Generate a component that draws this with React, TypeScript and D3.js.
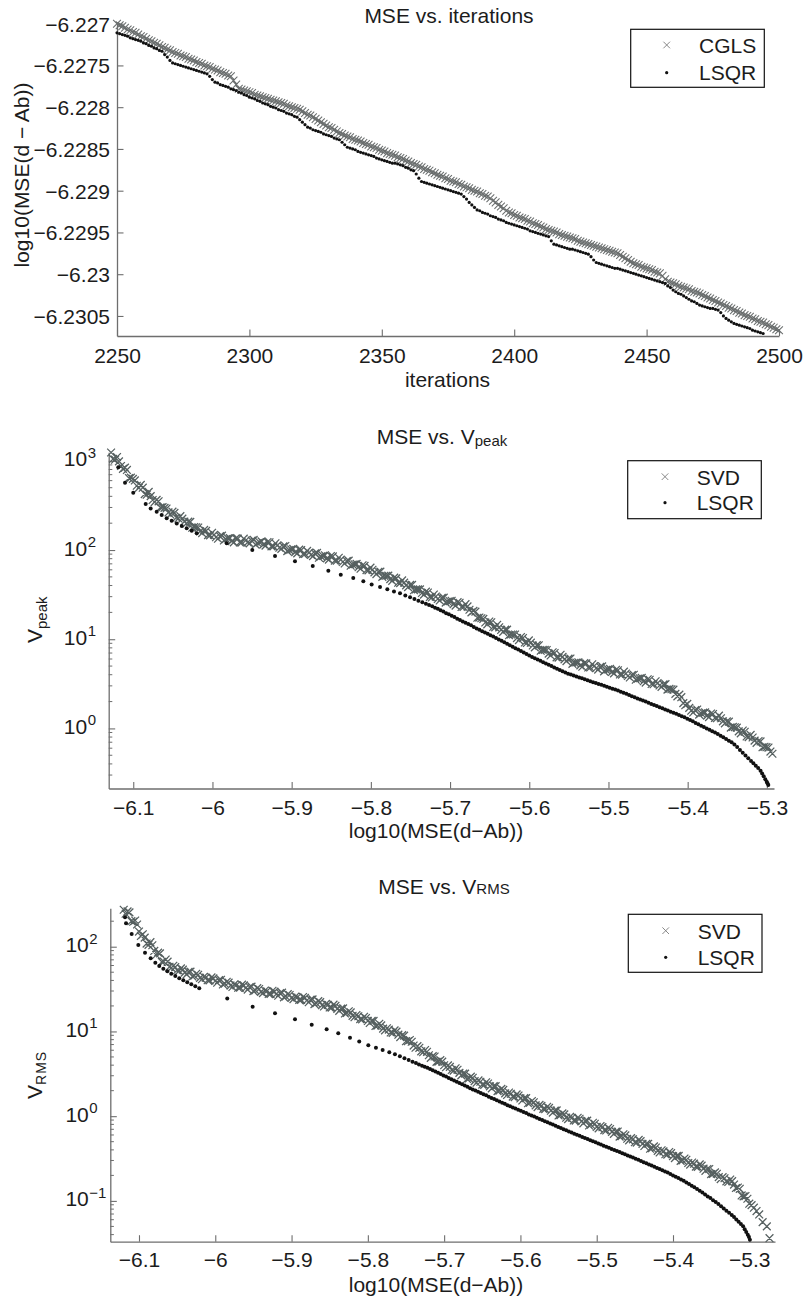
import React, { useEffect, useRef } from 'react';
import * as d3 from 'd3';

// ---------- panel 1: MSE vs. iterations ----------
const iterStart = 2250;
const cglsMse = [
  -6.22700, -6.22702, -6.22703, -6.22705, -6.22707, -6.22708, -6.22710, -6.22711, -6.22713, -6.22715,
  -6.22716, -6.22718, -6.22720, -6.22721, -6.22723, -6.22724, -6.22726, -6.22728, -6.22729, -6.22731,
  -6.22732, -6.22734, -6.22735, -6.22736, -6.22738, -6.22739, -6.22740, -6.22742, -6.22743, -6.22744,
  -6.22746, -6.22747, -6.22748, -6.22750, -6.22751, -6.22752, -6.22754, -6.22755, -6.22756, -6.22758,
  -6.22759, -6.22760, -6.22762, -6.22763, -6.22768, -6.22773, -6.22778, -6.22779, -6.22780, -6.22781,
  -6.22782, -6.22783, -6.22785, -6.22786, -6.22787, -6.22788, -6.22789, -6.22790, -6.22791, -6.22792,
  -6.22793, -6.22794, -6.22795, -6.22796, -6.22798, -6.22799, -6.22800, -6.22801, -6.22802, -6.22803,
  -6.22805, -6.22807, -6.22809, -6.22810, -6.22812, -6.22814, -6.22816, -6.22818, -6.22820, -6.22822,
  -6.22824, -6.22825, -6.22827, -6.22829, -6.22831, -6.22832, -6.22834, -6.22835, -6.22836, -6.22838,
  -6.22839, -6.22840, -6.22841, -6.22843, -6.22844, -6.22845, -6.22847, -6.22848, -6.22849, -6.22851,
  -6.22852, -6.22853, -6.22855, -6.22856, -6.22857, -6.22858, -6.22860, -6.22861, -6.22862, -6.22864,
  -6.22865, -6.22867, -6.22868, -6.22869, -6.22871, -6.22872, -6.22874, -6.22875, -6.22876, -6.22878,
  -6.22879, -6.22881, -6.22882, -6.22883, -6.22885, -6.22886, -6.22888, -6.22889, -6.22890, -6.22892,
  -6.22893, -6.22895, -6.22896, -6.22897, -6.22899, -6.22900, -6.22901, -6.22903, -6.22904, -6.22906,
  -6.22907, -6.22909, -6.22912, -6.22914, -6.22917, -6.22919, -6.22921, -6.22924, -6.22926, -6.22927,
  -6.22929, -6.22930, -6.22932, -6.22933, -6.22934, -6.22936, -6.22937, -6.22939, -6.22940, -6.22941,
  -6.22943, -6.22944, -6.22946, -6.22947, -6.22948, -6.22949, -6.22950, -6.22952, -6.22953, -6.22954,
  -6.22955, -6.22956, -6.22957, -6.22958, -6.22960, -6.22961, -6.22962, -6.22963, -6.22964, -6.22965,
  -6.22966, -6.22967, -6.22968, -6.22969, -6.22970, -6.22971, -6.22972, -6.22973, -6.22974, -6.22975,
  -6.22977, -6.22979, -6.22981, -6.22983, -6.22985, -6.22987, -6.22988, -6.22989, -6.22991, -6.22992,
  -6.22993, -6.22994, -6.22995, -6.22997, -6.22998, -6.22999, -6.23002, -6.23006, -6.23009, -6.23010,
  -6.23011, -6.23012, -6.23014, -6.23015, -6.23016, -6.23017, -6.23018, -6.23020, -6.23021, -6.23022,
  -6.23023, -6.23025, -6.23026, -6.23028, -6.23029, -6.23031, -6.23032, -6.23034, -6.23035, -6.23037,
  -6.23038, -6.23040, -6.23041, -6.23043, -6.23044, -6.23046, -6.23047, -6.23049, -6.23050, -6.23051,
  -6.23053, -6.23054, -6.23056, -6.23057, -6.23058, -6.23060, -6.23061, -6.23063, -6.23064, -6.23066,
  -6.23067,
];
const lsqrMse = [
  -6.22711, -6.22712, -6.22713, -6.22714, -6.22715, -6.22717, -6.22718, -6.22719, -6.22720, -6.22721,
  -6.22723, -6.22724, -6.22726, -6.22727, -6.22729, -6.22730, -6.22732, -6.22733, -6.22737, -6.22740,
  -6.22744, -6.22747, -6.22748, -6.22749, -6.22750, -6.22751, -6.22752, -6.22753, -6.22754, -6.22755,
  -6.22756, -6.22757, -6.22758, -6.22759, -6.22760, -6.22763, -6.22767, -6.22770, -6.22771, -6.22773,
  -6.22774, -6.22775, -6.22776, -6.22778, -6.22779, -6.22780, -6.22782, -6.22783, -6.22785, -6.22786,
  -6.22788, -6.22789, -6.22790, -6.22792, -6.22793, -6.22795, -6.22796, -6.22797, -6.22799, -6.22800,
  -6.22801, -6.22803, -6.22804, -6.22805, -6.22807, -6.22808, -6.22809, -6.22811, -6.22812, -6.22815,
  -6.22818, -6.22821, -6.22824, -6.22825, -6.22827, -6.22828, -6.22829, -6.22830, -6.22832, -6.22833,
  -6.22834, -6.22835, -6.22837, -6.22838, -6.22839, -6.22842, -6.22845, -6.22848, -6.22849, -6.22850,
  -6.22851, -6.22853, -6.22854, -6.22855, -6.22856, -6.22857, -6.22858, -6.22859, -6.22861, -6.22862,
  -6.22863, -6.22864, -6.22865, -6.22866, -6.22867, -6.22867, -6.22868, -6.22869, -6.22870, -6.22872,
  -6.22873, -6.22875, -6.22876, -6.22880, -6.22885, -6.22889, -6.22890, -6.22891, -6.22892, -6.22893,
  -6.22894, -6.22895, -6.22896, -6.22897, -6.22898, -6.22899, -6.22900, -6.22901, -6.22902, -6.22903,
  -6.22904, -6.22907, -6.22910, -6.22914, -6.22917, -6.22920, -6.22923, -6.22924, -6.22926, -6.22927,
  -6.22928, -6.22930, -6.22931, -6.22932, -6.22934, -6.22935, -6.22936, -6.22938, -6.22939, -6.22940,
  -6.22941, -6.22942, -6.22943, -6.22944, -6.22945, -6.22946, -6.22948, -6.22949, -6.22950, -6.22951,
  -6.22952, -6.22953, -6.22954, -6.22955, -6.22960, -6.22964, -6.22965, -6.22966, -6.22967, -6.22968,
  -6.22969, -6.22970, -6.22970, -6.22971, -6.22972, -6.22973, -6.22974, -6.22975, -6.22976, -6.22979,
  -6.22983, -6.22986, -6.22987, -6.22988, -6.22989, -6.22990, -6.22991, -6.22992, -6.22993, -6.22993,
  -6.22994, -6.22995, -6.22996, -6.22997, -6.22998, -6.22999, -6.23000, -6.23001, -6.23002, -6.23003,
  -6.23004, -6.23005, -6.23006, -6.23007, -6.23008, -6.23009, -6.23010, -6.23011, -6.23014, -6.23016,
  -6.23019, -6.23021, -6.23023, -6.23024, -6.23026, -6.23028, -6.23030, -6.23032, -6.23033, -6.23035,
  -6.23037, -6.23038, -6.23039, -6.23040, -6.23041, -6.23041, -6.23042, -6.23043, -6.23046, -6.23050,
  -6.23053, -6.23055, -6.23057, -6.23059, -6.23060, -6.23061, -6.23062, -6.23063, -6.23064, -6.23065,
  -6.23067, -6.23068, -6.23069, -6.23070, -6.23071,
];
const iterTicks = [2250, 2300, 2350, 2400, 2450, 2500];
const mseTicks = [-6.227, -6.2275, -6.228, -6.2285, -6.229, -6.2295, -6.23, -6.2305];

// ---------- shared x ticks of panels 2 and 3 ----------
const logMseTicks = [-6.1, -6, -5.9, -5.8, -5.7, -5.6, -5.5, -5.4, -5.3];

// ---------- panel 2: MSE vs. Vpeak  [log10 MSE, Vpeak] ----------
const svdPeak: [number, number][] = [
  [-6.128, 1240], [-6.1255, 1050], [-6.123, 1030], [-6.1205, 1105], [-6.118, 986], [-6.1155, 875], [-6.113, 813],
  [-6.1105, 839], [-6.108, 791], [-6.1055, 641], [-6.103, 647], [-6.1005, 628], [-6.098, 603], [-6.0955, 526],
  [-6.093, 498], [-6.0905, 538], [-6.088, 500], [-6.0855, 424], [-6.083, 417], [-6.0805, 449], [-6.078, 402],
  [-6.0755, 364], [-6.073, 345], [-6.0705, 365], [-6.068, 352], [-6.0655, 301], [-6.063, 303], [-6.0605, 297],
  [-6.058, 292], [-6.0555, 264], [-6.053, 249], [-6.0505, 269], [-6.048, 261], [-6.0455, 230], [-6.043, 226],
  [-6.0405, 240], [-6.038, 225], [-6.0355, 208], [-6.033, 198], [-6.0305, 208], [-6.028, 207], [-6.0255, 178],
  [-6.023, 181], [-6.0205, 180], [-6.018, 179], [-6.0155, 162], [-6.013, 155], [-6.0105, 168], [-6.008, 164],
  [-6.0055, 147], [-6.003, 146], [-6.0005, 156], [-5.998, 148], [-5.9955, 139], [-5.993, 134], [-5.9905, 143],
  [-5.988, 145], [-5.9855, 128], [-5.983, 133], [-5.9805, 135], [-5.978, 136], [-5.9755, 126], [-5.973, 122],
  [-5.9705, 135], [-5.968, 134], [-5.9655, 122], [-5.963, 122], [-5.9605, 134], [-5.958, 128], [-5.9555, 122],
  [-5.953, 119], [-5.9505, 128], [-5.948, 130], [-5.9455, 115], [-5.943, 120], [-5.9405, 122], [-5.938, 125],
  [-5.9355, 116], [-5.933, 112], [-5.9305, 123], [-5.928, 122], [-5.9255, 110], [-5.923, 110], [-5.9205, 119],
  [-5.918, 113], [-5.9155, 106], [-5.913, 103], [-5.9105, 110], [-5.908, 111], [-5.9055, 97.3], [-5.903, 100],
  [-5.9005, 101.5], [-5.898, 103], [-5.8955, 94.8], [-5.893, 91.8], [-5.8905, 101], [-5.888, 99.8], [-5.8855, 90.1],
  [-5.883, 90.2], [-5.8805, 97.8], [-5.878, 93.5], [-5.8755, 88.4], [-5.873, 85.5], [-5.8705, 91.7], [-5.868, 92.9],
  [-5.8655, 82.0], [-5.863, 85.1], [-5.8605, 86.2], [-5.858, 87.3], [-5.8555, 80.6], [-5.853, 78.0], [-5.8505, 85.6],
  [-5.848, 84.7], [-5.8455, 76.1], [-5.843, 75.9], [-5.8405, 81.9], [-5.838, 78.0], [-5.8355, 73.4], [-5.833, 70.6],
  [-5.8305, 75.4], [-5.828, 76.0], [-5.8255, 66.7], [-5.823, 68.7], [-5.8205, 69.3], [-5.818, 69.8], [-5.8155, 64.2],
  [-5.813, 61.8], [-5.8105, 67.5], [-5.808, 66.5], [-5.8055, 59.6], [-5.803, 59.2], [-5.8005, 63.5], [-5.798, 60.1],
  [-5.7955, 56.2], [-5.793, 53.8], [-5.7905, 57.1], [-5.788, 57.3], [-5.7855, 50.1], [-5.783, 51.4], [-5.7805, 51.5],
  [-5.778, 51.6], [-5.7755, 47.2], [-5.773, 45.2], [-5.7705, 49.1], [-5.768, 48.1], [-5.7655, 43.0], [-5.763, 42.6],
  [-5.7605, 45.6], [-5.758, 43.1], [-5.7555, 40.2], [-5.753, 38.4], [-5.7505, 40.6], [-5.748, 40.6], [-5.7455, 35.4],
  [-5.743, 36.2], [-5.7405, 36.2], [-5.738, 36.2], [-5.7355, 33.0], [-5.733, 31.6], [-5.7305, 34.2], [-5.728, 33.4],
  [-5.7255, 29.8], [-5.723, 29.4], [-5.7205, 31.7], [-5.718, 30.1], [-5.7155, 28.3], [-5.713, 27.2], [-5.7105, 29.1],
  [-5.708, 29.3], [-5.7055, 25.7], [-5.703, 26.5], [-5.7005, 26.8], [-5.698, 27.0], [-5.6955, 24.8], [-5.693, 23.8],
  [-5.6905, 26.0], [-5.688, 25.6], [-5.6855, 23.0], [-5.683, 23.0], [-5.6805, 24.7], [-5.678, 23.3], [-5.6755, 21.4],
  [-5.673, 20.0], [-5.6705, 20.8], [-5.668, 20.4], [-5.6655, 17.4], [-5.663, 17.5], [-5.6605, 17.2], [-5.658, 16.9],
  [-5.6555, 15.4], [-5.653, 14.7], [-5.6505, 15.8], [-5.648, 15.5], [-5.6455, 13.7], [-5.643, 13.6], [-5.6405, 14.5],
  [-5.638, 13.6], [-5.6355, 12.7], [-5.633, 12.1], [-5.6305, 12.8], [-5.628, 12.8], [-5.6255, 11.1], [-5.623, 11.3],
  [-5.6205, 11.3], [-5.618, 11.3], [-5.6155, 10.3], [-5.613, 9.79], [-5.6105, 10.6], [-5.608, 10.3], [-5.6055, 9.20],
  [-5.603, 9.08], [-5.6005, 9.70], [-5.598, 9.14], [-5.5955, 8.51], [-5.593, 8.11], [-5.5905, 8.57], [-5.588, 8.55],
  [-5.5855, 7.44], [-5.583, 7.60], [-5.5805, 7.59], [-5.578, 7.57], [-5.5755, 6.90], [-5.573, 6.58], [-5.5705, 7.15],
  [-5.568, 7.01], [-5.5655, 6.27], [-5.563, 6.22], [-5.5605, 6.69], [-5.558, 6.34], [-5.5555, 5.94], [-5.553, 5.69],
  [-5.5505, 6.05], [-5.548, 6.07], [-5.5455, 5.30], [-5.543, 5.45], [-5.5405, 5.48], [-5.538, 5.51], [-5.5355, 5.09],
  [-5.533, 4.92], [-5.5305, 5.40], [-5.528, 5.35], [-5.5255, 4.82], [-5.523, 4.82], [-5.5205, 5.23], [-5.518, 5.00],
  [-5.5155, 4.73], [-5.513, 4.57], [-5.5105, 4.90], [-5.508, 4.95], [-5.5055, 4.37], [-5.503, 4.53], [-5.5005, 4.59],
  [-5.498, 4.65], [-5.4955, 4.29], [-5.493, 4.14], [-5.4905, 4.54], [-5.488, 4.49], [-5.4855, 4.03], [-5.483, 4.01],
  [-5.4805, 4.33], [-5.478, 4.12], [-5.4755, 3.87], [-5.473, 3.72], [-5.4705, 3.97], [-5.468, 4.00], [-5.4655, 3.51],
  [-5.463, 3.62], [-5.4605, 3.65], [-5.458, 3.68], [-5.4555, 3.38], [-5.453, 3.26], [-5.4505, 3.56], [-5.448, 3.51],
  [-5.4455, 3.15], [-5.443, 3.13], [-5.4405, 3.38], [-5.438, 3.22], [-5.4355, 3.03], [-5.433, 2.92], [-5.4305, 3.12],
  [-5.428, 3.14], [-5.4255, 2.72], [-5.423, 2.77], [-5.4205, 2.75], [-5.418, 2.72], [-5.4155, 2.44], [-5.413, 2.29],
  [-5.4105, 2.39], [-5.408, 2.24], [-5.4055, 1.92], [-5.403, 1.82], [-5.4005, 1.88], [-5.398, 1.70], [-5.3955, 1.58],
  [-5.393, 1.51], [-5.3905, 1.61], [-5.388, 1.63], [-5.3855, 1.43], [-5.383, 1.48], [-5.3805, 1.50], [-5.378, 1.51],
  [-5.3755, 1.39], [-5.373, 1.34], [-5.3705, 1.47], [-5.368, 1.45], [-5.3655, 1.31], [-5.363, 1.30], [-5.3605, 1.39],
  [-5.358, 1.30], [-5.3555, 1.20], [-5.353, 1.14], [-5.3505, 1.20], [-5.348, 1.19], [-5.3455, 1.02], [-5.343, 1.04],
  [-5.3405, 1.03], [-5.338, 1.02], [-5.3355, 0.927], [-5.333, 0.879], [-5.3305, 0.946], [-5.328, 0.918], [-5.3255, 0.813],
  [-5.323, 0.798], [-5.3205, 0.846], [-5.318, 0.791], [-5.3155, 0.729], [-5.313, 0.689], [-5.3105, 0.722], [-5.308, 0.715],
  [-5.3055, 0.615], [-5.303, 0.622], [-5.3005, 0.616], [-5.298, 0.610], [-5.2955, 0.550], [-5.293, 0.520],
];
const lsqrPeak: [number, number][] = [
  [-6.1189, 845], [-6.1104, 567], [-6.1, 438], [-6.0843, 328], [-6.078, 293], [-6.0704, 269], [-6.0641, 247],
  [-6.0578, 227], [-6.0515, 213], [-6.0451, 199], [-6.0388, 186], [-6.0325, 175], [-6.0262, 165], [-6.0199, 154],
  [-5.982, 119], [-5.9497, 100], [-5.921, 86], [-5.8958, 75], [-5.8734, 66.1], [-5.8537, 58.6], [-5.838, 52.8],
  [-5.8222, 48.5], [-5.8095, 44.6], [-5.799, 41.2], [-5.7884, 38.5], [-5.7792, 36.3], [-5.7708, 34.3], [-5.7632, 32.7],
  [-5.7565, 31.0], [-5.7505, 29.5], [-5.745, 28.2], [-5.74, 27.0], [-5.735, 25.9], [-5.7305, 25.0], [-5.7265, 24.2],
  [-5.7225, 23.4], [-5.719, 22.6], [-5.7155, 21.9], [-5.712, 21.1], [-5.7085, 20.4], [-5.705, 19.6], [-5.7015, 19.0],
  [-5.698, 18.3], [-5.6945, 17.7], [-5.691, 17.0], [-5.6875, 16.4], [-5.684, 15.8], [-5.6805, 15.3], [-5.677, 14.8],
  [-5.6735, 14.3], [-5.67, 13.7], [-5.6665, 13.2], [-5.663, 12.8], [-5.6595, 12.3], [-5.656, 11.9], [-5.6525, 11.5],
  [-5.649, 11.1], [-5.6455, 10.7], [-5.642, 10.3], [-5.6385, 9.95], [-5.635, 9.59], [-5.6315, 9.23], [-5.628, 8.89],
  [-5.6245, 8.57], [-5.621, 8.26], [-5.6175, 7.94], [-5.614, 7.66], [-5.6105, 7.38], [-5.607, 7.10], [-5.6035, 6.84],
  [-5.6, 6.59], [-5.5965, 6.34], [-5.593, 6.12], [-5.5895, 5.92], [-5.586, 5.73], [-5.5825, 5.53], [-5.579, 5.35],
  [-5.5755, 5.18], [-5.572, 5.00], [-5.5685, 4.83], [-5.565, 4.68], [-5.5615, 4.52], [-5.558, 4.37], [-5.5545, 4.23],
  [-5.551, 4.10], [-5.5475, 4.01], [-5.544, 3.91], [-5.5405, 3.82], [-5.537, 3.72], [-5.5335, 3.64], [-5.53, 3.55],
  [-5.5265, 3.47], [-5.523, 3.39], [-5.5195, 3.30], [-5.516, 3.23], [-5.5125, 3.15], [-5.509, 3.08], [-5.5055, 3.00],
  [-5.502, 2.93], [-5.4985, 2.86], [-5.495, 2.79], [-5.4915, 2.73], [-5.488, 2.66], [-5.4845, 2.58], [-5.481, 2.51],
  [-5.4775, 2.44], [-5.474, 2.37], [-5.4705, 2.30], [-5.467, 2.24], [-5.4635, 2.17], [-5.46, 2.11], [-5.4565, 2.05],
  [-5.453, 2.00], [-5.4495, 1.94], [-5.446, 1.88], [-5.4425, 1.83], [-5.439, 1.78], [-5.4355, 1.73], [-5.432, 1.68],
  [-5.4285, 1.63], [-5.425, 1.59], [-5.4215, 1.54], [-5.418, 1.50], [-5.4145, 1.46], [-5.411, 1.41], [-5.4075, 1.37],
  [-5.404, 1.33], [-5.4005, 1.28], [-5.397, 1.24], [-5.3935, 1.20], [-5.39, 1.15], [-5.3865, 1.11], [-5.383, 1.07],
  [-5.3795, 1.04], [-5.376, 1.00], [-5.3725, 0.966], [-5.369, 0.932], [-5.3655, 0.899], [-5.362, 0.865], [-5.3585, 0.829],
  [-5.355, 0.794], [-5.3515, 0.761], [-5.348, 0.729], [-5.3445, 0.698], [-5.341, 0.662], [-5.3375, 0.617], [-5.334, 0.573],
  [-5.3305, 0.534], [-5.327, 0.497], [-5.3235, 0.463], [-5.32, 0.431], [-5.317, 0.406], [-5.314, 0.382], [-5.311, 0.359],
  [-5.308, 0.335], [-5.306, 0.312], [-5.304, 0.29], [-5.302, 0.27], [-5.3002, 0.253], [-5.2992, 0.242], [-5.2982, 0.232],
];
const peakDecades = [0, 1, 2, 3];

// ---------- panel 3: MSE vs. VRMS  [log10 MSE, VRMS] ----------
const svdRms: [number, number][] = [
  [-6.12, 273], [-6.1175, 245], [-6.115, 261], [-6.1125, 254], [-6.11, 200], [-6.1075, 197], [-6.105, 204],
  [-6.1025, 183], [-6.1, 151], [-6.0975, 134], [-6.095, 140], [-6.0925, 128], [-6.09, 109], [-6.0875, 105],
  [-6.085, 113], [-6.0825, 104], [-6.08, 89.1], [-6.0775, 79.8], [-6.075, 85.1], [-6.0725, 83.4], [-6.07, 66.2],
  [-6.0675, 66.6], [-6.065, 70.5], [-6.0625, 66.7], [-6.06, 57.9], [-6.0575, 56.4], [-6.055, 59.6], [-6.0525, 57.4],
  [-6.05, 52.7], [-6.0475, 51.9], [-6.045, 55.5], [-6.0425, 53.6], [-6.04, 49.5], [-6.0375, 47.2], [-6.035, 50.4],
  [-6.0325, 50.7], [-6.03, 44.5], [-6.0275, 45.4], [-6.025, 47.9], [-6.0225, 46.6], [-6.02, 42.8], [-6.0175, 41.3],
  [-6.015, 44.2], [-6.0125, 43.1], [-6.01, 40.2], [-6.0075, 40.1], [-6.005, 43.4], [-6.0025, 42.3], [-6.0, 39.4],
  [-5.9975, 37.6], [-5.995, 40.3], [-5.9925, 40.7], [-5.99, 35.8], [-5.9875, 36.6], [-5.985, 38.6], [-5.9825, 37.7],
  [-5.98, 34.8], [-5.9775, 33.5], [-5.975, 35.9], [-5.9725, 35.1], [-5.97, 32.8], [-5.9675, 32.9], [-5.965, 35.6],
  [-5.9625, 34.9], [-5.96, 32.6], [-5.9575, 31.2], [-5.955, 33.4], [-5.9525, 33.8], [-5.95, 29.9], [-5.9475, 30.6],
  [-5.945, 32.4], [-5.9425, 31.7], [-5.94, 29.3], [-5.9375, 28.3], [-5.935, 30.4], [-5.9325, 29.8], [-5.93, 27.8],
  [-5.9275, 27.8], [-5.925, 30.2], [-5.9225, 29.5], [-5.92, 27.6], [-5.9175, 26.4], [-5.915, 28.3], [-5.9125, 28.7],
  [-5.91, 25.3], [-5.9075, 25.9], [-5.905, 27.5], [-5.9025, 26.9], [-5.9, 24.9], [-5.8975, 24.1], [-5.895, 25.8],
  [-5.8925, 25.3], [-5.89, 23.6], [-5.8875, 23.6], [-5.885, 25.5], [-5.8825, 24.9], [-5.88, 23.2], [-5.8775, 22.1],
  [-5.875, 23.7], [-5.8725, 23.9], [-5.87, 21.0], [-5.8675, 21.5], [-5.865, 22.8], [-5.8625, 22.2], [-5.86, 20.4],
  [-5.8575, 19.7], [-5.855, 21.1], [-5.8525, 20.6], [-5.85, 19.2], [-5.8475, 19.1], [-5.845, 20.7], [-5.8425, 20.0],
  [-5.84, 18.5], [-5.8375, 17.5], [-5.835, 18.6], [-5.8325, 18.7], [-5.83, 16.3], [-5.8275, 16.5], [-5.825, 17.3],
  [-5.8225, 16.8], [-5.82, 15.3], [-5.8175, 14.7], [-5.815, 15.6], [-5.8125, 15.1], [-5.81, 14.0], [-5.8075, 13.9],
  [-5.805, 14.9], [-5.8025, 14.4], [-5.8, 13.3], [-5.7975, 12.6], [-5.795, 13.3], [-5.7925, 13.3], [-5.79, 11.6],
  [-5.7875, 11.7], [-5.785, 12.3], [-5.7825, 11.8], [-5.78, 10.8], [-5.7775, 10.3], [-5.775, 10.9], [-5.7725, 10.5],
  [-5.77, 9.73], [-5.7675, 9.62], [-5.765, 10.3], [-5.7625, 9.94], [-5.76, 9.16], [-5.7575, 8.59], [-5.755, 9.04],
  [-5.7525, 8.92], [-5.75, 7.67], [-5.7475, 7.66], [-5.745, 7.93], [-5.7425, 7.56], [-5.74, 6.81], [-5.7375, 6.42],
  [-5.735, 6.71], [-5.7325, 6.41], [-5.73, 5.83], [-5.7275, 5.69], [-5.725, 6.03], [-5.7225, 5.75], [-5.72, 5.24],
  [-5.7175, 4.88], [-5.715, 5.11], [-5.7125, 5.06], [-5.71, 4.38], [-5.7075, 4.40], [-5.705, 4.58], [-5.7025, 4.40],
  [-5.7, 3.99], [-5.6975, 3.78], [-5.695, 3.98], [-5.6925, 3.82], [-5.69, 3.51], [-5.6875, 3.45], [-5.685, 3.67],
  [-5.6825, 3.53], [-5.68, 3.24], [-5.6775, 3.03], [-5.675, 3.19], [-5.6725, 3.18], [-5.67, 2.75], [-5.6675, 2.79],
  [-5.665, 2.93], [-5.6625, 2.84], [-5.66, 2.59], [-5.6575, 2.48], [-5.655, 2.64], [-5.6525, 2.55], [-5.65, 2.36],
  [-5.6475, 2.34], [-5.645, 2.51], [-5.6425, 2.43], [-5.64, 2.25], [-5.6375, 2.13], [-5.635, 2.26], [-5.6325, 2.26],
  [-5.63, 1.98], [-5.6275, 2.00], [-5.625, 2.10], [-5.6225, 2.04], [-5.62, 1.86], [-5.6175, 1.78], [-5.615, 1.90],
  [-5.6125, 1.84], [-5.61, 1.70], [-5.6075, 1.68], [-5.605, 1.81], [-5.6025, 1.75], [-5.6, 1.62], [-5.5975, 1.53],
  [-5.595, 1.63], [-5.5925, 1.63], [-5.59, 1.42], [-5.5875, 1.44], [-5.585, 1.51], [-5.5825, 1.46], [-5.58, 1.34],
  [-5.5775, 1.28], [-5.575, 1.36], [-5.5725, 1.32], [-5.57, 1.22], [-5.5675, 1.21], [-5.565, 1.29], [-5.5625, 1.25],
  [-5.56, 1.16], [-5.5575, 1.10], [-5.555, 1.16], [-5.5525, 1.17], [-5.55, 1.02], [-5.5475, 1.03], [-5.545, 1.08],
  [-5.5425, 1.05], [-5.54, 0.959], [-5.5375, 0.923], [-5.535, 0.984], [-5.5325, 0.958], [-5.53, 0.891], [-5.5275, 0.887],
  [-5.525, 0.957], [-5.5225, 0.932], [-5.52, 0.867], [-5.5175, 0.824], [-5.515, 0.879], [-5.5125, 0.885], [-5.51, 0.776],
  [-5.5075, 0.792], [-5.505, 0.836], [-5.5025, 0.813], [-5.5, 0.746], [-5.4975, 0.718], [-5.495, 0.766], [-5.4925, 0.741],
  [-5.49, 0.686], [-5.4875, 0.679], [-5.485, 0.729], [-5.4825, 0.706], [-5.48, 0.653], [-5.4775, 0.618], [-5.475, 0.656],
  [-5.4725, 0.658], [-5.47, 0.574], [-5.4675, 0.582], [-5.465, 0.611], [-5.4625, 0.592], [-5.46, 0.541], [-5.4575, 0.518],
  [-5.455, 0.551], [-5.4525, 0.533], [-5.45, 0.492], [-5.4475, 0.488], [-5.445, 0.525], [-5.4425, 0.508], [-5.44, 0.470],
  [-5.4375, 0.445], [-5.435, 0.472], [-5.4325, 0.473], [-5.43, 0.413], [-5.4275, 0.419], [-5.425, 0.440], [-5.4225, 0.426],
  [-5.42, 0.389], [-5.4175, 0.373], [-5.415, 0.396], [-5.4125, 0.384], [-5.41, 0.355], [-5.4075, 0.352], [-5.405, 0.378],
  [-5.4025, 0.366], [-5.4, 0.338], [-5.3975, 0.320], [-5.395, 0.340], [-5.3925, 0.340], [-5.39, 0.297], [-5.3875, 0.301],
  [-5.385, 0.316], [-5.3825, 0.306], [-5.38, 0.280], [-5.3775, 0.268], [-5.375, 0.284], [-5.3725, 0.275], [-5.37, 0.254],
  [-5.3675, 0.252], [-5.365, 0.270], [-5.3625, 0.261], [-5.36, 0.240], [-5.3575, 0.226], [-5.355, 0.238], [-5.3525, 0.238],
  [-5.35, 0.207], [-5.3475, 0.208], [-5.345, 0.217], [-5.3425, 0.209], [-5.34, 0.191], [-5.3375, 0.181], [-5.335, 0.191],
  [-5.3325, 0.185], [-5.33, 0.170], [-5.3275, 0.167], [-5.325, 0.179], [-5.3225, 0.171], [-5.32, 0.156], [-5.3175, 0.142],
  [-5.315, 0.144], [-5.3125, 0.139], [-5.31, 0.116], [-5.3075, 0.113], [-5.305, 0.114], [-5.3025, 0.106], [-5.3, 0.0927],
  [-5.297, 0.0891], [-5.294, 0.0832], [-5.2905, 0.0759], [-5.287, 0.0692], [-5.2825, 0.0562], [-5.277, 0.0501],
  [-5.2735, 0.0363],
];
const lsqrRms: [number, number][] = [
  [-6.1183, 222], [-6.117, 189], [-6.1096, 141], [-6.1009, 105], [-6.0921, 85], [-6.0847, 72.9], [-6.0786, 64.7],
  [-6.0734, 59.2], [-6.0681, 55.1], [-6.0629, 51.3], [-6.0577, 48.1], [-6.0524, 45.1], [-6.0472, 42.4], [-6.0419, 40.2],
  [-6.0367, 38.0], [-6.0314, 36.1], [-6.0262, 34.1], [-6.021, 32.3], [-5.9843, 24.4], [-5.951, 19.6], [-5.9217, 16.4],
  [-5.8955, 13.9], [-5.8736, 12.0], [-5.854, 10.6], [-5.8388, 9.53], [-5.8234, 8.45], [-5.8113, 7.59], [-5.7994, 6.87],
  [-5.7894, 6.44], [-5.7806, 6.05], [-5.7719, 5.69], [-5.7645, 5.38], [-5.758, 5.08], [-5.752, 4.83], [-5.7465, 4.60],
  [-5.7415, 4.40], [-5.737, 4.24], [-5.733, 4.08], [-5.729, 3.94], [-5.7255, 3.83], [-5.722, 3.72], [-5.7185, 3.60],
  [-5.715, 3.49], [-5.7115, 3.37], [-5.708, 3.26], [-5.7045, 3.15], [-5.701, 3.03], [-5.6975, 2.93], [-5.694, 2.83],
  [-5.6905, 2.73], [-5.687, 2.64], [-5.6835, 2.55], [-5.68, 2.46], [-5.6765, 2.38], [-5.673, 2.30], [-5.6695, 2.22],
  [-5.666, 2.14], [-5.6625, 2.07], [-5.659, 2.01], [-5.6555, 1.94], [-5.652, 1.88], [-5.6485, 1.82], [-5.645, 1.76],
  [-5.6415, 1.70], [-5.638, 1.64], [-5.6345, 1.59], [-5.631, 1.54], [-5.6275, 1.49], [-5.624, 1.44], [-5.6205, 1.40],
  [-5.617, 1.35], [-5.6135, 1.31], [-5.61, 1.27], [-5.6065, 1.23], [-5.603, 1.19], [-5.5995, 1.16], [-5.596, 1.12],
  [-5.5925, 1.09], [-5.589, 1.05], [-5.5855, 1.02], [-5.582, 0.989], [-5.5785, 0.959], [-5.575, 0.929], [-5.5715, 0.901],
  [-5.568, 0.873], [-5.5645, 0.847], [-5.561, 0.821], [-5.5575, 0.796], [-5.554, 0.771], [-5.5505, 0.747], [-5.547, 0.724],
  [-5.5435, 0.702], [-5.54, 0.681], [-5.5365, 0.659], [-5.533, 0.640], [-5.5295, 0.622], [-5.526, 0.604], [-5.5225, 0.586],
  [-5.519, 0.569], [-5.5155, 0.552], [-5.512, 0.536], [-5.5085, 0.521], [-5.505, 0.506], [-5.5015, 0.491], [-5.498, 0.477],
  [-5.4945, 0.462], [-5.491, 0.449], [-5.4875, 0.436], [-5.484, 0.424], [-5.4805, 0.411], [-5.477, 0.399], [-5.4735, 0.388],
  [-5.47, 0.377], [-5.4665, 0.366], [-5.463, 0.355], [-5.4595, 0.344], [-5.456, 0.334], [-5.4525, 0.325], [-5.449, 0.315],
  [-5.4455, 0.305], [-5.442, 0.296], [-5.4385, 0.286], [-5.435, 0.278], [-5.4315, 0.269], [-5.428, 0.261], [-5.4245, 0.253],
  [-5.421, 0.245], [-5.4175, 0.238], [-5.414, 0.230], [-5.4105, 0.223], [-5.407, 0.216], [-5.4035, 0.208], [-5.4, 0.200],
  [-5.3965, 0.193], [-5.393, 0.186], [-5.3895, 0.179], [-5.386, 0.173], [-5.3825, 0.165], [-5.379, 0.158], [-5.3755, 0.151],
  [-5.372, 0.145], [-5.3685, 0.138], [-5.365, 0.132], [-5.3615, 0.126], [-5.358, 0.119], [-5.3545, 0.113], [-5.351, 0.108],
  [-5.3475, 0.102], [-5.344, 0.0970], [-5.3405, 0.0917], [-5.337, 0.0865], [-5.3335, 0.0815], [-5.33, 0.0767],
  [-5.3265, 0.0724], [-5.323, 0.0683], [-5.32, 0.0646], [-5.317, 0.0605], [-5.314, 0.0569], [-5.311, 0.0533],
  [-5.3081, 0.0501], [-5.306, 0.0463], [-5.304, 0.0430], [-5.302, 0.0398], [-5.3005, 0.0376], [-5.2992, 0.0347],
];
const rmsDecades = [-1, 0, 1, 2];

const FONT = '"Liberation Sans", Arial, Helvetica, sans-serif';
const AXIS = '#6e6e6e';
const INK = '#1c1c1c';
const CROSS_GREY = '#6a6e6e';
const SVD_GREY = '#566060';
const LEGEND_GREY = '#7a7a7a';

const fmtMinus = (v: number) => (v < 0 ? '\u2212' + String(+(-v).toFixed(6)) : String(v));

function crossPath(pts: [number, number][], s: number) {
  return pts
    .map(([cx, cy]) => `M${cx - s},${cy - s}L${cx + s},${cy + s}M${cx - s},${cy + s}L${cx + s},${cy - s}`)
    .join('');
}

function bottomAxis(g: any, x: any, y0: number, ticks: number[], labelY: number) {
  const ax = g.append('g').attr('transform', `translate(0,${y0})`)
    .call(d3.axisBottom(x).tickValues(ticks).tickSizeInner(-6.5).tickSizeOuter(0).tickFormat((d: any) => fmtMinus(d)));
  ax.attr('font-size', 21).attr('font-family', FONT);
  ax.select('.domain').attr('stroke', AXIS).attr('stroke-width', 1.3);
  ax.selectAll('.tick line').attr('stroke', AXIS).attr('stroke-width', 1.1);
  ax.selectAll('.tick text').attr('y', labelY).attr('dy', null).attr('fill', INK);
}

function leftAxis(g: any, y: any, x0: number, ticks: number[], withText: boolean) {
  const ax = g.append('g').attr('transform', `translate(${x0},0)`)
    .call(d3.axisLeft(y).tickValues(ticks).tickSizeInner(-6.5).tickSizeOuter(0).tickFormat((d: any) => fmtMinus(d)));
  ax.attr('font-size', 21).attr('font-family', FONT);
  ax.select('.domain').attr('stroke', AXIS).attr('stroke-width', 1.3);
  ax.selectAll('.tick line').attr('stroke', AXIS).attr('stroke-width', 1.1);
  if (withText) ax.selectAll('.tick text').attr('x', -7).attr('dy', '0.35em').attr('fill', INK);
  else ax.selectAll('.tick text').remove();
}

function logLabels(g: any, y: any, x0: number, decades: number[]) {
  const [lo, hi] = y.domain();
  // minor ticks at 2..9 of every decade
  const minors: number[] = [];
  for (let k = Math.floor(Math.log10(lo)); k <= Math.ceil(Math.log10(hi)); k++) {
    for (let m = 2; m <= 9; m++) {
      const v = m * Math.pow(10, k);
      if (v > lo && v < hi) minors.push(v);
    }
  }
  g.append('g').selectAll('line').data(minors).join('line')
    .attr('x1', x0).attr('x2', x0 + 3.6).attr('y1', (d: number) => y(d)).attr('y2', (d: number) => y(d))
    .attr('stroke', AXIS).attr('stroke-width', 1);
  const lab = g.append('g').attr('font-family', FONT).attr('fill', INK);
  decades.forEach((k) => {
    const yy = y(Math.pow(10, k));
    lab.append('text').attr('x', x0 - 21.5).attr('y', yy + 5.5).attr('text-anchor', 'end').attr('font-size', 21).text('10');
    lab.append('text').attr('x', x0 - 21).attr('y', yy - 3).attr('font-size', 15).text(fmtMinus(k));
  });
}

function legend(g: any, box: [number, number, number, number], mx: number, tx: number,
  rows: { label: string; kind: 'x' | 'dot'; cy: number; base: number; color: string }[]) {
  const lg = g.append('g');
  lg.append('rect').attr('x', box[0]).attr('y', box[1]).attr('width', box[2]).attr('height', box[3])
    .attr('fill', '#fff').attr('stroke', '#111').attr('stroke-width', 1.2);
  rows.forEach((r) => {
    if (r.kind === 'x') {
      lg.append('path').attr('d', crossPath([[mx, r.cy]], 3.3)).attr('stroke', r.color).attr('stroke-width', 0.9).attr('fill', 'none');
    } else {
      lg.append('circle').attr('cx', mx).attr('cy', r.cy).attr('r', 1.6).attr('fill', r.color);
    }
    lg.append('text').attr('x', tx).attr('y', r.base).attr('font-family', FONT).attr('font-size', 21)
      .attr('fill', INK).text(r.label);
  });
}

const App = () => {
  const svgRef = useRef<SVGSVGElement>(null);

  useEffect(() => {
    const svg = d3.select(svgRef.current);
    svg.selectAll('*').remove();

    // ===== panel 1 =====
    const g1 = svg.append('g');
    const x1 = d3.scaleLinear([2250, 2500], [117, 779]);
    const y1 = d3.scaleLinear([-6.23074, -6.22698], [336, 22]);
    bottomAxis(g1, x1, 336, iterTicks, 27);
    leftAxis(g1, y1, 117, mseTicks, true);
    const cglsPts = cglsMse.map((v, i) => [x1(iterStart + i), y1(v)] as [number, number]);
    g1.append('path').attr('d', crossPath(cglsPts, 3.9)).attr('stroke', CROSS_GREY)
      .attr('stroke-width', 1.05).attr('fill', 'none');
    g1.append('g').selectAll('circle').data(lsqrMse).join('circle')
      .attr('cx', (_d: number, i: number) => x1(iterStart + i)).attr('cy', (d: number) => y1(d))
      .attr('r', 1.6).attr('fill', '#111');
    g1.append('text').attr('x', 449).attr('y', 22.5).attr('text-anchor', 'middle')
      .attr('font-family', FONT).attr('font-size', 21).attr('fill', INK).text('MSE vs. iterations');
    g1.append('text').attr('x', 447.5).attr('y', 386.5).attr('text-anchor', 'middle')
      .attr('font-family', FONT).attr('font-size', 21).attr('fill', INK).text('iterations');
    g1.append('text').attr('transform', 'translate(29,175) rotate(-90)').attr('text-anchor', 'middle')
      .attr('font-family', FONT).attr('font-size', 21).attr('fill', INK).text('log10(MSE(d \u2212 Ab))');
    legend(g1, [630.7, 29.3, 133.6, 58], 666.7, 699, [
      { label: 'CGLS', kind: 'x', cy: 45, base: 52.7, color: LEGEND_GREY },
      { label: 'LSQR', kind: 'dot', cy: 72.7, base: 79.5, color: '#111' },
    ]);

    // ===== panel 2 =====
    const g2 = svg.append('g');
    const x2 = d3.scaleLinear([-6.131, -5.291], [108.7, 774]);
    const y2 = d3.scaleLog([0.212, 1250], [788.5, 452.2]);
    bottomAxis(g2, x2, 788.5, logMseTicks, 26.5);
    leftAxis(g2, y2, 108.7, peakDecades.map((k) => Math.pow(10, k)), false);
    logLabels(g2, y2, 108.7, peakDecades);
    const svdPeakPts = svdPeak.map(([a, b]) => [x2(a), y2(b)] as [number, number]);
    g2.append('path').attr('d', crossPath(svdPeakPts, 3.9)).attr('stroke', SVD_GREY)
      .attr('stroke-width', 1.25).attr('fill', 'none');
    g2.append('g').selectAll('circle').data(lsqrPeak).join('circle')
      .attr('cx', (d: [number, number]) => x2(d[0])).attr('cy', (d: [number, number]) => y2(d[1]))
      .attr('r', 2.0).attr('fill', '#111');
    const t2 = g2.append('text').attr('x', 442).attr('y', 444).attr('text-anchor', 'middle')
      .attr('font-family', FONT).attr('font-size', 21).attr('fill', INK);
    t2.append('tspan').text('MSE vs. V');
    t2.append('tspan').attr('font-size', 15).attr('dy', 2).text('peak');
    g2.append('text').attr('x', 436).attr('y', 838).attr('text-anchor', 'middle')
      .attr('font-family', FONT).attr('font-size', 21).attr('fill', INK).text('log10(MSE(d\u2212Ab))');
    const yl2 = g2.append('text').attr('transform', 'translate(42,643) rotate(-90)')
      .attr('font-family', FONT).attr('font-size', 21).attr('fill', INK);
    yl2.append('tspan').text('V');
    yl2.append('tspan').attr('font-size', 15).attr('dy', 5).text('peak');
    legend(g2, [627.7, 460.7, 133.6, 58], 665, 696.7, [
      { label: 'SVD', kind: 'x', cy: 476.7, base: 485, color: LEGEND_GREY },
      { label: 'LSQR', kind: 'dot', cy: 502.7, base: 510, color: '#111' },
    ]);

    // ===== panel 3 =====
    const g3 = svg.append('g');
    const x3 = d3.scaleLinear([-6.1376, -5.2663], [110.3, 775]);
    const y3 = d3.scaleLog([0.033, 284], [1241.7, 908.3]);
    bottomAxis(g3, x3, 1241.7, logMseTicks, 25.5);
    leftAxis(g3, y3, 110.3, rmsDecades.map((k) => Math.pow(10, k)), false);
    logLabels(g3, y3, 110.3, rmsDecades);
    const svdRmsPts = svdRms.map(([a, b]) => [x3(a), y3(b)] as [number, number]);
    g3.append('path').attr('d', crossPath(svdRmsPts, 3.9)).attr('stroke', SVD_GREY)
      .attr('stroke-width', 1.25).attr('fill', 'none');
    g3.append('g').selectAll('circle').data(lsqrRms).join('circle')
      .attr('cx', (d: [number, number]) => x3(d[0])).attr('cy', (d: [number, number]) => y3(d[1]))
      .attr('r', 2.0).attr('fill', '#111');
    const t3 = g3.append('text').attr('x', 444).attr('y', 894).attr('text-anchor', 'middle')
      .attr('font-family', FONT).attr('font-size', 21).attr('fill', INK);
    t3.append('tspan').text('MSE vs. V');
    t3.append('tspan').attr('font-size', 15).text('RMS');
    g3.append('text').attr('x', 436).attr('y', 1292).attr('text-anchor', 'middle')
      .attr('font-family', FONT).attr('font-size', 21).attr('fill', INK).text('log10(MSE(d\u2212Ab))');
    const yl3 = g3.append('text').attr('transform', 'translate(42,1099) rotate(-90)')
      .attr('font-family', FONT).attr('font-size', 21).attr('fill', INK);
    yl3.append('tspan').text('V');
    yl3.append('tspan').attr('font-size', 14).attr('dy', 4).attr('letter-spacing', 1).text('RMS');
    legend(g3, [628.3, 914.3, 133.7, 58], 665.7, 697.7, [
      { label: 'SVD', kind: 'x', cy: 930.7, base: 939, color: LEGEND_GREY },
      { label: 'LSQR', kind: 'dot', cy: 957.3, base: 965, color: '#111' },
    ]);
  }, []);

  return (
    <svg
      ref={svgRef}
      width={804}
      height={1300}
      viewBox="0 0 804 1300"
      style={{ position: 'absolute', left: 0, top: 0, background: '#fff' }}
    />
  );
};

export default App;
